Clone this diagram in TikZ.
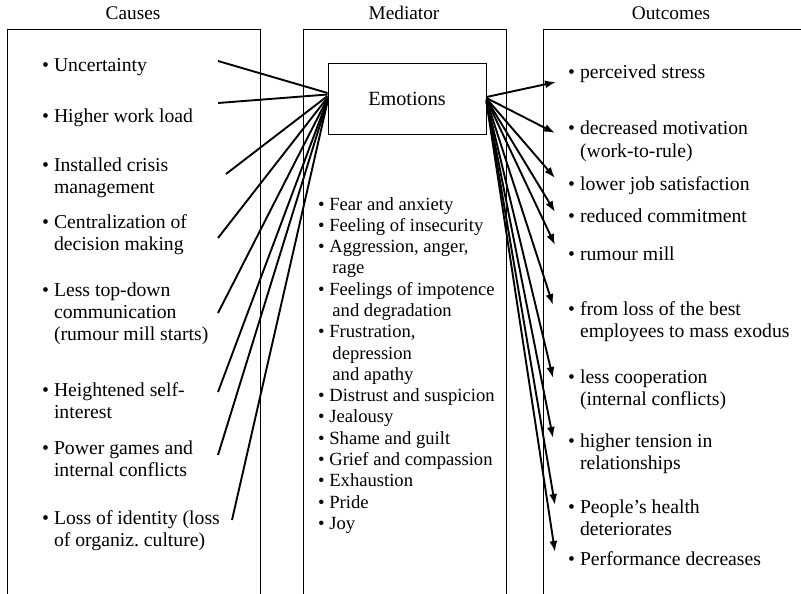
\documentclass[tikz,border=0pt]{standalone}
\usepackage{fontspec}
\setmainfont{Liberation Serif}
\usetikzlibrary{arrows.meta}

% bullet followed by a (possibly multi-line) block whose lines align after the bullet
\newcommand{\bitem}[1]{\textbullet\ \begin{tabular}[t]{@{}l@{}}#1\end{tabular}}

\tikzset{
  frame/.style={line width=0.9pt},
  heading/.style={anchor=base, inner sep=0pt, font=\fontsize{19.3}{22}\selectfont},
  entry/.style={anchor=base west, inner sep=0pt, align=left, font=\fontsize{19.7}{22}\selectfont},
  emobox/.style={draw, line width=0.9pt, minimum width=158pt, minimum height=71pt,
                 inner sep=0pt, font=\fontsize{20.2}{24}\selectfont},
  cause/.style={line width=1.9pt},
  effect/.style={line width=1.9pt, -{Latex[length=11pt,width=8pt]}}
}

\begin{document}
\begin{tikzpicture}[x=1pt, y=-1pt]
\useasboundingbox (0,0) rectangle (801,594);

% column frames (open at the bottom)
\draw[frame] (7,594) |- (260,29) -- (260,594);
\draw[frame] (303,594) |- (506,29) -- (506,594);
\draw[frame] (543,594) |- (802,29);

% column headings
\node[heading] (hc) at (133,20) {Causes};
\node[heading] (hm) at (404,20) {Mediator};
\node[heading] (ho) at (671,20) {Outcomes};

% mediator box
\node[emobox] (emo) at (407,98.5) {Emotions};

% causes
\node[entry] (c1) at (42,71)  {\bitem{Uncertainty}};
\node[entry] (c2) at (42,122) {\bitem{Higher work load}};
\node[entry] (c3) at (42,171) {\bitem{Installed crisis\\management}};
\node[entry] (c4) at (42,228) {\bitem{Centralization of\\decision making}};
\node[entry] (c5) at (42,296) {\bitem{Less top-down\\communication\\(rumour mill starts)}};
\node[entry] (c6) at (42,396) {\bitem{Heightened self-\\interest}};
\node[entry] (c7) at (42,454) {\bitem{Power games and\\internal conflicts}};
\node[entry] (c8) at (42,524) {\bitem{Loss of identity (loss\\of organiz.\ culture)}};

% list of emotions
\node[anchor=base west, inner sep=0pt, font=\fontsize{18.6}{21.3}\selectfont] (elist) at (318,210)
{\begin{tabular}[t]{@{}l@{\ }l@{}}
\textbullet & Fear and anxiety\\
\textbullet & Feeling of insecurity\\
\textbullet & Aggression, anger,\\
            & \,rage\\
\textbullet & Feelings of impotence\\
            & \,and degradation\\
\textbullet & Frustration,\\
            & \,depression\\
            & \,and apathy\\
\textbullet & Distrust and suspicion\\
\textbullet & Jealousy\\
\textbullet & Shame and guilt\\
\textbullet & Grief and compassion\\
\textbullet & Exhaustion\\
\textbullet & Pride\\
\textbullet & Joy
\end{tabular}};

% outcomes
\node[entry] (o1)  at (568,78)  {\bitem{perceived stress}};
\node[entry] (o2)  at (568,135) {\bitem{decreased motivation\\(work-to-rule)}};
\node[entry] (o3)  at (568,190) {\bitem{lower job satisfaction}};
\node[entry] (o4)  at (568,222) {\bitem{reduced commitment}};
\node[entry] (o5)  at (568,260) {\bitem{rumour mill}};
\node[entry] (o6)  at (568,315) {\bitem{from loss of the best\\employees to mass exodus}};
\node[entry] (o7)  at (568,383) {\bitem{less cooperation\\(internal conflicts)}};
\node[entry] (o8)  at (568,447) {\bitem{higher tension in\\relationships}};
\node[entry] (o9)  at (568,513) {\bitem{People’s health\\deteriorates}};
\node[entry] (o10) at (568,565) {\bitem{Performance decreases}};

% free ends of the cause lines
\coordinate (s1) at (218,61);
\coordinate (s2) at (218,103);
\coordinate (s3) at (226,174);
\coordinate (s4) at (218,238);
\coordinate (s5) at (218,313);
\coordinate (s6) at (218,392);
\coordinate (s7) at (218,455);
\coordinate (s8) at (232,520);

% arrow tips of the outcome arrows
\coordinate (t1)  at (556,82);
\coordinate (t2)  at (555,133);
\coordinate (t3)  at (555,178);
\coordinate (t4)  at (555,212);
\coordinate (t5)  at (555,245);
\coordinate (t6)  at (553,305);
\coordinate (t7)  at (553,378);
\coordinate (t8)  at (553,438);
\coordinate (t9)  at (555,505);
\coordinate (t10) at (555,552);

% causes -> emotions
\draw[cause] (s1) -- ([yshift=5.5pt]emo.west);
\draw[cause] (s2) -- ([yshift=4pt]emo.west);
\draw[cause] (s3) -- ([yshift=2.5pt]emo.west);
\draw[cause] (s4) -- ([yshift=1pt]emo.west);
\draw[cause] (s5) -- ([yshift=0pt]emo.west);
\draw[cause] (s6) -- ([yshift=-1pt]emo.west);
\draw[cause] (s7) -- ([yshift=-2pt]emo.west);
\draw[cause] (s8) -- ([yshift=-3pt]emo.west);

% emotions -> outcomes
\draw[effect] ([yshift=1.5pt]emo.east)  -- (t1);
\draw[effect] ([yshift=0.5pt]emo.east)  -- (t2);
\draw[effect] ([yshift=0pt]emo.east)    -- (t3);
\draw[effect] ([yshift=-0.5pt]emo.east) -- (t4);
\draw[effect] ([yshift=-1pt]emo.east)   -- (t5);
\draw[effect] ([yshift=-1.5pt]emo.east) -- (t6);
\draw[effect] ([yshift=-2pt]emo.east)   -- (t7);
\draw[effect] ([yshift=-2.5pt]emo.east) -- (t8);
\draw[effect] ([yshift=-3pt]emo.east)   -- (t9);
\draw[effect] ([yshift=-3.5pt]emo.east) -- (t10);
\end{tikzpicture}
\end{document}
